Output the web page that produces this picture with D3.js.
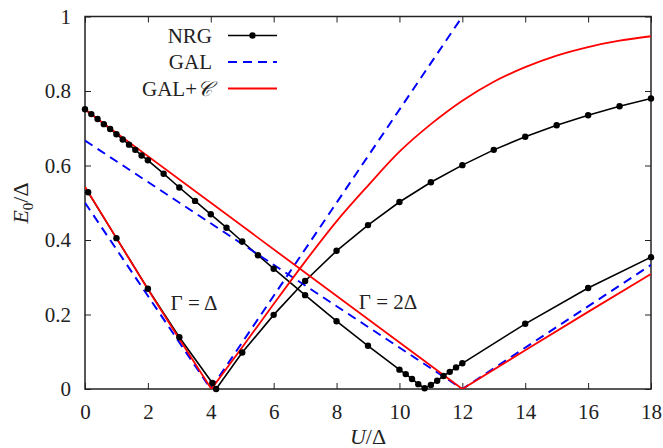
<!DOCTYPE html>
<html>
<head>
<meta charset="utf-8">
<script src="https://cdn.jsdelivr.net/npm/d3@7"></script>
<style>
  body { margin: 0; background: #fff; }
  text { font-family: "Liberation Serif", "DejaVu Serif", serif; fill: #222; }
</style>
</head>
<body>
<div class="chart"></div>
<script>
// data ------
// NRG, Gamma = Delta
const nrgU1 = [0.1, 1, 2, 3, 4.05, 4.17, 5, 6, 7, 8, 9, 10, 11, 12, 13, 14, 15, 16, 17, 18];
const nrgE1 = [0.528, 0.405, 0.269, 0.139, 0.016, 0.0, 0.098, 0.199, 0.290, 0.371, 0.440, 0.502, 0.555, 0.601, 0.642, 0.677, 0.708, 0.735, 0.759, 0.780];
// NRG, Gamma = 2 Delta
const nrgU2 = [0, 0.2, 0.4, 0.6, 0.8, 1.0, 1.2, 1.4, 1.6, 1.8, 2.0, 2.5, 3, 3.5, 4, 4.5, 5, 5.5, 6, 7, 8, 9, 10,
  10.2, 10.4, 10.6, 10.8, 11, 11.2, 11.4, 11.6, 11.8, 12, 14, 16, 18];
const nrgE2 = [0.751, 0.738, 0.725, 0.711, 0.698, 0.684, 0.670, 0.656, 0.642, 0.627, 0.614, 0.578, 0.541, 0.505, 0.469, 0.433, 0.396, 0.359, 0.323, 0.252, 0.182, 0.116, 0.052,
  0.040, 0.027, 0.013, 0.002, 0.011, 0.022, 0.035, 0.046, 0.058, 0.069, 0.175, 0.271, 0.354];
// GAL
const galU1 = [0, 4, 12];
const galE1 = [0.5, 0, 1];
const galU2 = [0, 12, 18];
const galE2 = [0.667, 0, 0.333];
// GAL+C, Gamma = Delta (falling branch, rising branch)
const galcU1a = [0, 1, 2, 3, 4.02];
const galcE1a = [0.543, 0.405, 0.268, 0.134, 0];
const galcU1b = [4.02, 5, 6, 7, 8, 9, 10, 11, 12, 13, 14, 15, 16, 17, 18];
const galcE1b = [0, 0.112, 0.228, 0.342, 0.45, 0.546, 0.637, 0.711, 0.774, 0.825, 0.864, 0.895, 0.918, 0.935, 0.947];
// GAL+C, Gamma = 2 Delta
const galcU2 = [0, 12, 14, 16, 18];
const galcE2 = [0.75, 0, 0.104, 0.207, 0.309];

const xTicks = [0, 2, 4, 6, 8, 10, 12, 14, 16, 18];
const yTicks = [0, 0.2, 0.4, 0.6, 0.8, 1];

const zip = (us, es) => us.map((u, i) => [u, es[i]]);

//Chart INIT------
const W = 663, H = 448;
const margin = ({top: 16.5, right: 12, bottom: 59, left: 85});
const width = W - margin.left - margin.right;
const height = H - margin.top - margin.bottom;

const svg = d3.select('.chart')
  .append('svg')
  .attr("width", W)
  .attr("height", H)
  .append("g")
  .attr("transform", `translate(${margin.left},${margin.top})`);

const x = d3.scaleLinear().domain([0, 18]).range([0, width]);
const y = d3.scaleLinear().domain([0, 1]).range([height, 0]);

svg.append("clipPath").attr("id", "clip")
  .append("rect").attr("width", width).attr("height", height);

// axes, ticks pointing inward
const fmtY = d => d === 0 ? "0" : d === 1 ? "1" : d3.format(".1f")(d);
svg.append("g")
  .attr("transform", `translate(0,${height})`)
  .call(d3.axisBottom(x).tickValues(xTicks).tickSize(-6).tickPadding(15))
  .call(g => g.select(".domain").remove());
svg.append("g")
  .call(d3.axisTop(x).tickValues(xTicks).tickSize(-6).tickFormat(""))
  .call(g => g.select(".domain").remove());
svg.append("g")
  .call(d3.axisLeft(y).tickValues(yTicks).tickSize(-6).tickPadding(14).tickFormat(fmtY))
  .call(g => g.select(".domain").remove());
svg.append("g")
  .attr("transform", `translate(${width},0)`)
  .call(d3.axisRight(y).tickValues(yTicks).tickSize(-6).tickFormat(""))
  .call(g => g.select(".domain").remove());

svg.selectAll(".tick line").attr("stroke", "#222").attr("stroke-width", 1);
svg.selectAll(".tick text")
  .style("font-family", '"Liberation Serif", serif')
  .style("font-size", "21px")
  .attr("fill", "#222");

svg.append("rect")
  .attr("width", width).attr("height", height)
  .attr("fill", "none").attr("stroke", "#222").attr("stroke-width", 1.5);

// lines
const line = d3.line().x(d => x(d[0])).y(d => y(d[1]));
const smooth = d3.line().x(d => x(d[0])).y(d => y(d[1])).curve(d3.curveMonotoneX);
const plot = svg.append("g").attr("clip-path", "url(#clip)");

const nrg = [zip(nrgU1, nrgE1), zip(nrgU2, nrgE2)];
nrg.forEach(pts => {
  plot.append("path").datum(pts)
    .attr("d", line).attr("fill", "none")
    .attr("stroke", "#000").attr("stroke-width", 1.6);
});
svg.append("g").selectAll("circle")
  .data(nrg.flat())
  .join("circle")
  .attr("cx", d => x(d[0])).attr("cy", d => y(d[1]))
  .attr("r", 3.2).attr("fill", "#000");

[zip(galU1, galE1), zip(galU2, galE2)].forEach(pts => {
  plot.append("path").datum(pts)
    .attr("d", line).attr("fill", "none")
    .attr("stroke", "#0000ff").attr("stroke-width", 2)
    .attr("stroke-dasharray", "9,6");
});

[[zip(galcU1a, galcE1a), line], [zip(galcU1b, galcE1b), smooth], [zip(galcU2, galcE2), line]].forEach(([pts, gen]) => {
  plot.append("path").datum(pts)
    .attr("d", gen).attr("fill", "none")
    .attr("stroke", "#ff0000").attr("stroke-width", 1.8);
});

// legend
const legend = [
  {label: "NRG", color: "#000", dash: null, dot: true},
  {label: "GAL", color: "#0000ff", dash: "9,6", dot: false},
  {label: "GAL+", color: "#ff0000", dash: null, dot: false}
];
const lg = svg.append("g").attr("transform", `translate(${-margin.left},${-margin.top})`);
legend.forEach((d, i) => {
  const cy = 35.5 + i * 26.5;
  const t = lg.append("text")
    .attr("x", 212).attr("y", cy + 7)
    .attr("text-anchor", "end")
    .style("font-size", "21px")
    .text(d.label);
  if (i === 2) t.append("tspan").style("font-style", "italic").text("𝒞");
  lg.append("line")
    .attr("x1", 228).attr("x2", 277).attr("y1", cy).attr("y2", cy)
    .attr("stroke", d.color).attr("stroke-width", d.dot ? 1.6 : (d.dash ? 2 : 1.8))
    .attr("stroke-dasharray", d.dash);
  if (d.dot) lg.append("circle").attr("cx", 252.5).attr("cy", cy).attr("r", 3.2).attr("fill", "#000");
});

// annotations
lg.append("text").attr("x", 194).attr("y", 310).attr("text-anchor", "middle")
  .style("font-size", "21px").text("Γ = Δ");
lg.append("text").attr("x", 388).attr("y", 309).attr("text-anchor", "middle")
  .style("font-size", "21px").text("Γ = 2Δ");

// axis titles
const yt = lg.append("text")
  .attr("transform", `translate(28,203) rotate(-90)`)
  .attr("text-anchor", "middle")
  .style("font-size", "22px");
yt.append("tspan").style("font-style", "italic").text("E");
yt.append("tspan").attr("dy", 5).style("font-size", "15px").text("0");
yt.append("tspan").attr("dy", -5).text("/Δ");

const xt = lg.append("text")
  .attr("x", 368).attr("y", 444)
  .attr("text-anchor", "middle")
  .style("font-size", "22px");
xt.append("tspan").style("font-style", "italic").text("U");
xt.append("tspan").text("/Δ");
</script>
</body>
</html>
